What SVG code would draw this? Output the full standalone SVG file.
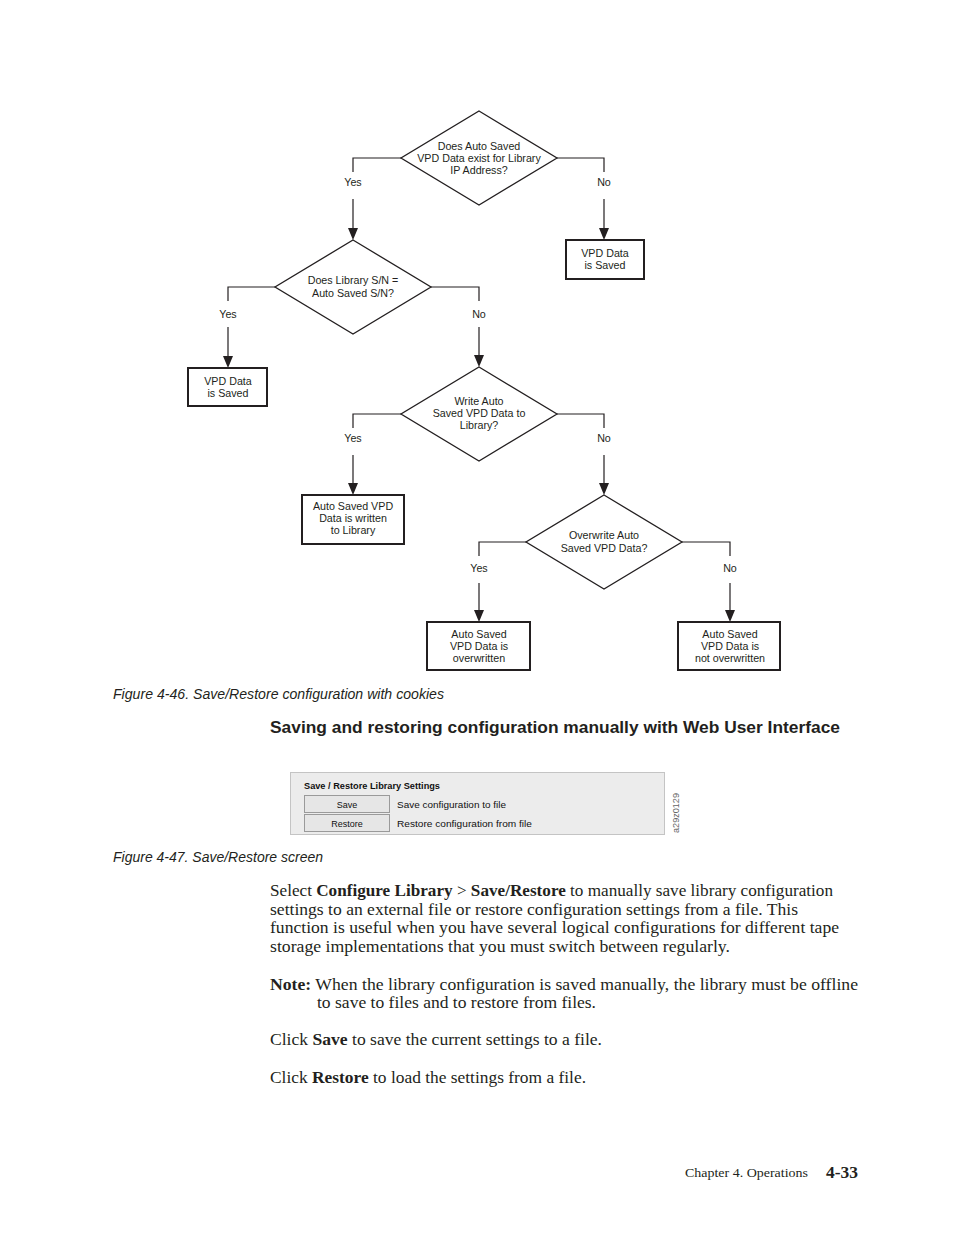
<svg xmlns="http://www.w3.org/2000/svg" width="954" height="1235" viewBox="0 0 954 1235">
<style>
.dia{fill:#fff;stroke:#231f20;stroke-width:1.3}
.box{fill:#fff;stroke:#231f20;stroke-width:2}
.ln{fill:none;stroke:#231f20;stroke-width:1.2}
.ah{fill:#231f20}
.ft{font-family:"Liberation Sans",Arial,sans-serif;font-size:10.7px;fill:#231f20;text-anchor:middle}
.cap{font-family:"Liberation Sans",Arial,sans-serif;font-size:14px;font-style:italic;fill:#231f20}
.hd{font-family:"Liberation Sans",Arial,sans-serif;font-size:17px;font-weight:bold;fill:#231f20}
.bd{font-family:"Liberation Serif","Times New Roman",serif;font-size:16.5px;fill:#231f20}
.b{font-weight:bold}
.ui{font-family:"Liberation Sans",Arial,sans-serif;font-size:9px;fill:#111}
.btn{fill:#e6e6e6;stroke:#9a9a9a;stroke-width:1}
</style>
<rect width="954" height="1235" fill="#fff"/>

<g id="connectors">
<path class="ln" d="M401,158 H353 V172"/>
<line class="ln" x1="353" y1="199" x2="353" y2="228"/>
<polygon class="ah" points="348,228 358,228 353,240"/>
<path class="ln" d="M557,158 H604 V172"/>
<line class="ln" x1="604" y1="199" x2="604" y2="228"/>
<polygon class="ah" points="599,228 609,228 604,240"/>

<path class="ln" d="M275,287 H228 V301"/>
<line class="ln" x1="228" y1="327" x2="228" y2="356"/>
<polygon class="ah" points="223,356 233,356 228,368"/>
<path class="ln" d="M431,287 H479 V301"/>
<line class="ln" x1="479" y1="327" x2="479" y2="355"/>
<polygon class="ah" points="474,355 484,355 479,367"/>

<path class="ln" d="M401,414 H353 V428"/>
<line class="ln" x1="353" y1="455" x2="353" y2="483"/>
<polygon class="ah" points="348,483 358,483 353,495"/>
<path class="ln" d="M557,414 H604 V428"/>
<line class="ln" x1="604" y1="455" x2="604" y2="483"/>
<polygon class="ah" points="599,483 609,483 604,495"/>

<path class="ln" d="M526,542 H479 V556"/>
<line class="ln" x1="479" y1="583" x2="479" y2="610"/>
<polygon class="ah" points="474,610 484,610 479,622"/>
<path class="ln" d="M682,542 H730 V556"/>
<line class="ln" x1="730" y1="583" x2="730" y2="610"/>
<polygon class="ah" points="725,610 735,610 730,622"/>

<text class="ft" x="353" y="186">Yes</text>
<text class="ft" x="604" y="186">No</text>
<text class="ft" x="228" y="318">Yes</text>
<text class="ft" x="479" y="318">No</text>
<text class="ft" x="353" y="442">Yes</text>
<text class="ft" x="604" y="442">No</text>
<text class="ft" x="479" y="572">Yes</text>
<text class="ft" x="730" y="572">No</text>
</g>

<g id="d1">
<polygon class="dia" points="479,111 557,158 479,205 401,158"/>
<text class="ft" x="479" y="150">Does Auto Saved</text>
<text class="ft" x="479" y="162">VPD Data exist for Library</text>
<text class="ft" x="479" y="174">IP Address?</text>
</g>
<g id="b1">
<rect class="box" x="566" y="240" width="78" height="39"/>
<text class="ft" x="605" y="257">VPD Data</text>
<text class="ft" x="605" y="269">is Saved</text>
</g>
<g id="d2">
<polygon class="dia" points="353,240 431,287 353,334 275,287"/>
<text class="ft" x="353" y="284">Does Library S/N =</text>
<text class="ft" x="353" y="297">Auto Saved S/N?</text>
</g>
<g id="b2">
<rect class="box" x="188" y="368" width="79" height="38"/>
<text class="ft" x="228" y="385">VPD Data</text>
<text class="ft" x="228" y="397">is Saved</text>
</g>
<g id="d3">
<polygon class="dia" points="479,367 557,414 479,461 401,414"/>
<text class="ft" x="479" y="405">Write Auto</text>
<text class="ft" x="479" y="417">Saved VPD Data to</text>
<text class="ft" x="479" y="429">Library?</text>
</g>
<g id="b3">
<rect class="box" x="302" y="495" width="102" height="49"/>
<text class="ft" x="353" y="510">Auto Saved VPD</text>
<text class="ft" x="353" y="522">Data is written</text>
<text class="ft" x="353" y="534">to Library</text>
</g>
<g id="d4">
<polygon class="dia" points="604,495 682,542 604,589 526,542"/>
<text class="ft" x="604" y="539">Overwrite Auto</text>
<text class="ft" x="604" y="552">Saved VPD Data?</text>
</g>
<g id="b4">
<rect class="box" x="427" y="622" width="103" height="48"/>
<text class="ft" x="479" y="638">Auto Saved</text>
<text class="ft" x="479" y="650">VPD Data is</text>
<text class="ft" x="479" y="662">overwritten</text>
</g>
<g id="b5">
<rect class="box" x="678" y="622" width="102" height="48"/>
<text class="ft" x="730" y="638">Auto Saved</text>
<text class="ft" x="730" y="650">VPD Data is</text>
<text class="ft" x="730" y="662">not overwritten</text>
</g>

<text class="cap" x="113" y="699" textLength="331" lengthAdjust="spacingAndGlyphs">Figure 4-46. Save/Restore configuration with cookies</text>
<text class="hd" x="270" y="733" textLength="570" lengthAdjust="spacingAndGlyphs">Saving and restoring configuration manually with Web User Interface</text>

<g id="screen">
<rect x="290.5" y="772.5" width="374" height="62" fill="#ececec" stroke="#c4c4c4" stroke-width="1"/>
<text class="ui b" x="304" y="789" textLength="136" lengthAdjust="spacingAndGlyphs">Save / Restore Library Settings</text>
<rect class="btn" x="304.5" y="795.5" width="85" height="17"/>
<text class="ui" x="347" y="808" text-anchor="middle">Save</text>
<rect class="btn" x="304.5" y="814.5" width="85" height="17"/>
<text class="ui" x="347" y="827" text-anchor="middle">Restore</text>
<text class="ui" x="397" y="808" textLength="109" lengthAdjust="spacingAndGlyphs">Save configuration to file</text>
<text class="ui" x="397" y="827" textLength="135" lengthAdjust="spacingAndGlyphs">Restore configuration from file</text>
<text class="ui" x="0" y="0" transform="translate(679,833) rotate(-90)" style="fill:#666;font-size:8.5px" textLength="40" lengthAdjust="spacingAndGlyphs">a29z0129</text>
</g>
<text class="cap" x="113" y="862" textLength="210" lengthAdjust="spacingAndGlyphs">Figure 4-47. Save/Restore screen</text>

<text class="bd" x="270" y="896" textLength="563" lengthAdjust="spacingAndGlyphs">Select <tspan class="b">Configure Library</tspan> &gt; <tspan class="b">Save/Restore</tspan> to manually save library configuration</text>
<text class="bd" x="270" y="915" textLength="528" lengthAdjust="spacingAndGlyphs">settings to an external file or restore configuration settings from a file. This</text>
<text class="bd" x="270" y="933" textLength="569" lengthAdjust="spacingAndGlyphs">function is useful when you have several logical configurations for different tape</text>
<text class="bd" x="270" y="952" textLength="460" lengthAdjust="spacingAndGlyphs">storage implementations that you must switch between regularly.</text>
<text class="bd" x="270" y="990" textLength="588" lengthAdjust="spacingAndGlyphs"><tspan class="b">Note:</tspan>  When the library configuration is saved manually, the library must be offline</text>
<text class="bd" x="317" y="1008" textLength="279" lengthAdjust="spacingAndGlyphs">to save to files and to restore from files.</text>
<text class="bd" x="270" y="1045" textLength="332" lengthAdjust="spacingAndGlyphs">Click <tspan class="b">Save</tspan> to save the current settings to a file.</text>
<text class="bd" x="270" y="1083" textLength="316" lengthAdjust="spacingAndGlyphs">Click <tspan class="b">Restore</tspan> to load the settings from a file.</text>

<text x="685" y="1177" style="font-family:'Liberation Serif','Times New Roman',serif;font-size:13px;fill:#231f20" textLength="123" lengthAdjust="spacingAndGlyphs">Chapter 4. Operations</text>
<text x="826" y="1178" style="font-family:'Liberation Serif','Times New Roman',serif;font-size:17px;font-weight:bold;fill:#231f20" textLength="32" lengthAdjust="spacingAndGlyphs">4-33</text>
</svg>
